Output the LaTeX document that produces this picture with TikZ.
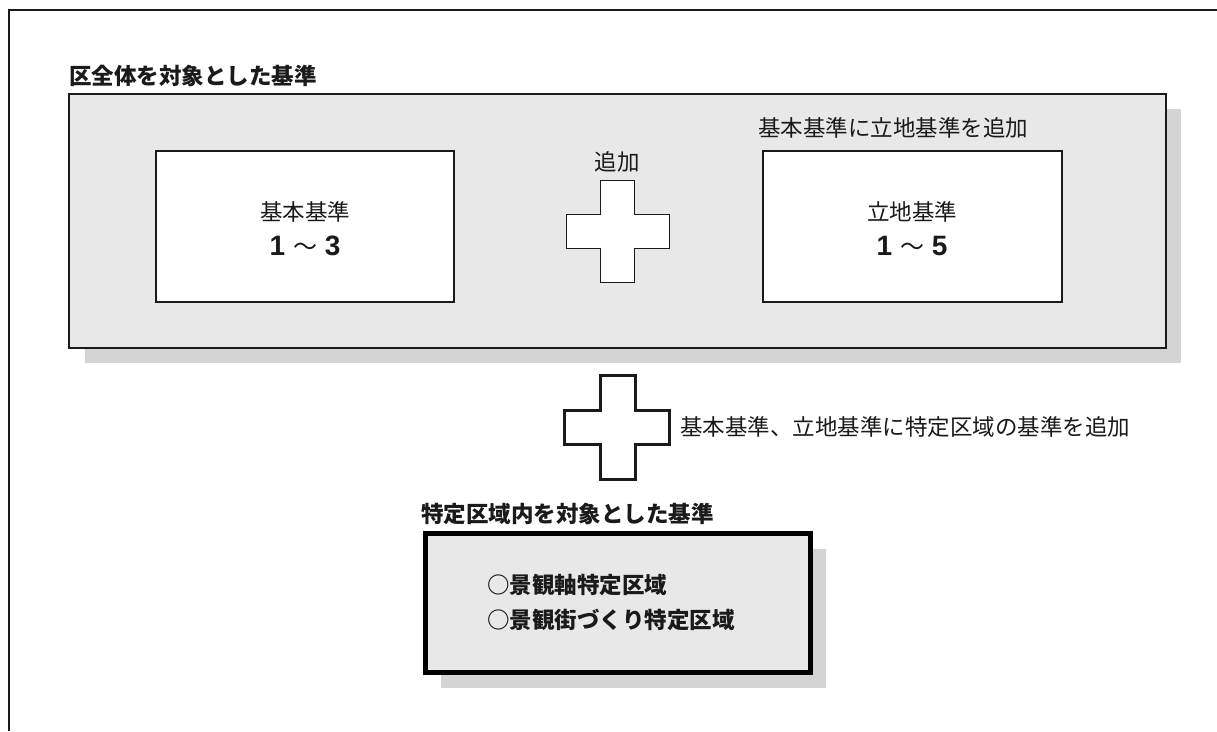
\documentclass[tikz,border=0pt]{standalone}
\usepackage{fontspec}
\setmainfont{Noto Sans CJK JP}
\newfontfamily\numfont{Liberation Sans}
\newfontfamily\jpfont{Noto Sans CJK JP}
\definecolor{panelgrey}{HTML}{E8E8E8}
\definecolor{shadowgrey}{HTML}{D4D4D4}
\definecolor{ink}{HTML}{1A1A1A}
\begin{document}
\begin{tikzpicture}[x=1pt,y=-1pt,
  txt/.style={inner sep=0pt,font=\fontsize{22.5}{26}\selectfont,text=ink},
  btxt/.style={txt,font=\fontsize{22.5}{26}\selectfont\bfseries},
  numtxt/.style={inner sep=0pt,font=\fontsize{28}{32}\selectfont\bfseries,text=ink},
  whitebox/.style={draw=ink,line width=1.3pt,fill=white},
  plusthin/.style={draw=ink,line width=1pt,fill=white},
  plusthick/.style={draw=ink,line width=3pt,fill=white,line join=miter},
]
\useasboundingbox (0,0) rectangle (1217,731);
\fill[white] (0,0) rectangle (1217,731);
% outer frame
\draw[ink,line width=1.5pt] (1217,10) -- (9,10) -- (9,731);

% upper panel
\fill[shadowgrey] (85,109) rectangle (1181,363);
\draw[draw=ink,line width=1.2pt,fill=panelgrey] (69,94) rectangle (1166,348);
\node[btxt,anchor=west] (t1) at (69,76) {区全体を対象とした基準};

% left box
\draw[whitebox] (156,151) rectangle (454,302);
\node[txt] (k1) at (305,212) {基本基準};
\node[numtxt] (n1) at (305,246) {\numfont 1 {\jpfont\fontsize{24}{26}\selectfont\mdseries ～} 3};

% right box
\draw[whitebox] (763,151) rectangle (1062,302);
\node[txt] (k2) at (912,212) {立地基準};
\node[numtxt] (n2) at (912,246) {\numfont 1 {\jpfont\fontsize{24}{26}\selectfont\mdseries ～} 5};
\node[txt,anchor=west] (a2) at (758,128) {基本基準に立地基準を追加};

% small plus
\draw[plusthin] (600,180) -- (634,180) -- (634,214) -- (669,214) -- (669,248) -- (634,248) -- (634,282) -- (600,282) -- (600,248) -- (566,248) -- (566,214) -- (600,214) -- cycle;
\node[txt] (a1) at (617,162) {追加};

% big plus
\draw[plusthick] (600,375) -- (635,375) -- (635,410) -- (669,410) -- (669,444) -- (635,444) -- (635,479) -- (600,479) -- (600,444) -- (564,444) -- (564,410) -- (600,410) -- cycle;
\node[txt,anchor=west] (a3) at (680,427) {基本基準、立地基準に特定区域の基準を追加};

% lower panel
\node[btxt,anchor=west] (t2) at (421,514) {特定区域内を対象とした基準};
\fill[shadowgrey] (441,549) rectangle (826,688);
\draw[draw=black,line width=5pt,fill=panelgrey] (425.5,533.5) rectangle (810.5,672.5);
\node[btxt,anchor=west] (i1) at (487,585) {○景観軸特定区域};
\node[btxt,anchor=west] (i2) at (487,620) {○景観街づくり特定区域};
\end{tikzpicture}
\end{document}
